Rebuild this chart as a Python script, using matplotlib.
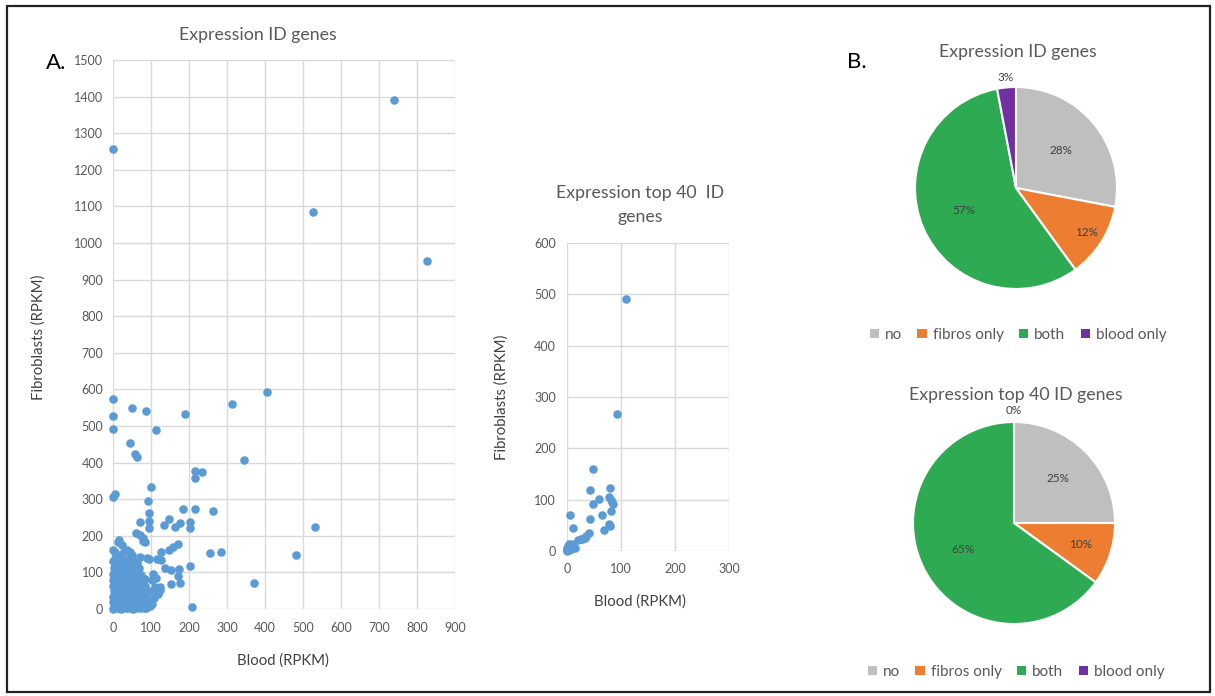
import math
import matplotlib
matplotlib.use("Agg")
import matplotlib.pyplot as plt
from matplotlib.patches import Patch, Rectangle

plt.rcParams['font.family'] = ['Lato', 'DejaVu Sans']

# ---------------- data ----------------
# Panel A, all ID genes: sparse points
blood_sparse = [0, 740, 527, 827, 406, 314, 0, 0, 0, 50, 86, 189, 112, 44, 58, 63, 344,
                217, 234, 217, 100, 6, 1, 91, 95, 95, 95, 71, 183, 217, 264, 147, 133,
                164, 177, 202, 202, 60, 71, 80, 84, 15, 1, 23, 36, 45, 172, 159, 148,
                126, 255, 283, 94, 115, 126, 137, 152, 174, 203, 170, 152, 177, 102,
                110, 119, 124, 96, 97, 371, 209, 481, 531, 14, 79, 6, 27, 49, 71, 89,
                97, 110, 124, 103, 108, 100, 105, 112]
fibro_sparse = [1257, 1390, 1084, 952, 593, 561, 573, 526, 491, 550, 541, 533, 489, 454,
                423, 414, 408, 377, 373, 359, 333, 315, 307, 296, 261, 241, 220, 238,
                272, 272, 267, 247, 229, 223, 236, 239, 220, 208, 202, 193, 184, 189,
                161, 175, 161, 157, 178, 170, 161, 157, 152, 157, 137, 137, 134, 111,
                107, 108, 117, 91, 67, 70, 79, 61, 40, 52, 25, 8, 70, 5, 148, 223, 184,
                186, 157, 153, 148, 143, 139, 20, 43, 61, 15, 30, 48, 95, 85]

# Panel A, all ID genes: dense cluster near the origin
blood_dense = [0, 2, 5, 8, 12, 15, 20, 24, 28, 33, 38, 42, 47, 52, 56, 61, 66, 71, 76, 82, 88, 93,
               1, 4, 9, 14, 18, 23, 27, 31, 36, 40, 45, 50, 54, 58, 63, 68, 73, 78, 84, 90,
               0, 3, 7, 11, 16, 21, 26, 30, 35, 39, 44, 48, 53, 57, 62, 67, 72, 77, 83, 88,
               2, 6, 10, 15, 19, 24, 29, 33, 37, 42, 46, 51, 55, 60, 65, 70, 75, 80, 86,
               0, 4, 9, 13, 17, 22, 27, 31, 36, 41, 45, 50, 54, 59, 64, 69, 74, 79, 85,
               1, 5, 9, 14, 19, 23, 28, 32, 37, 42, 47, 51, 56, 61, 66, 71, 77, 83,
               0, 4, 8, 13, 18, 23, 28, 33, 38, 43, 48, 53, 58, 63, 68, 74,
               2, 6, 11, 16, 21, 26, 31, 36, 41, 46, 52, 57, 62, 68,
               0, 5, 10, 17, 24, 30, 38, 45, 55, 64]
fibro_dense = [0, 5, 2, 8, 3, 10, 1, 6, 12, 2, 8, 4, 10, 1, 7, 3, 9, 2, 6, 4, 2, 9,
               18, 22, 15, 24, 17, 21, 16, 25, 19, 23, 15, 20, 24, 16, 22, 18, 25, 15, 21, 17,
               32, 37, 30, 40, 33, 38, 31, 36, 40, 30, 35, 39, 32, 37, 30, 34, 38, 31, 36, 33,
               48, 53, 45, 50, 55, 47, 52, 45, 54, 49, 45, 53, 48, 55, 46, 51, 45, 54, 49,
               62, 68, 60, 66, 70, 63, 68, 61, 66, 70, 62, 67, 60, 65, 70, 62, 66, 60, 64,
               78, 84, 76, 82, 88, 77, 83, 76, 86, 79, 84, 75, 80, 87, 78, 83, 76, 82,
               95, 100, 93, 104, 97, 92, 101, 95, 103, 96, 92, 100, 105, 94, 99, 92,
               112, 120, 115, 124, 110, 118, 113, 122, 116, 110, 121, 114, 119, 112,
               130, 138, 132, 141, 128, 135, 130, 138, 132, 128]

# Panel A, top 40 ID genes
blood_top40 = [5, 10.5, 49, 43, 48, 60, 43, 65, 80, 78, 81, 84, 86, 81, 77, 80, 69, 40, 36,
               28, 25, 12, 6, 3, 0, 0, 9, 109, 93, 1, 2, 4, 0, 7, 1, 3, 14, 33, 20, 0]
fibro_top40 = [70, 44, 159, 119, 91, 102, 62, 70, 123, 105, 100, 95, 91, 77, 53, 49, 40, 36,
               30, 24, 23, 9, 11, 7, 0, 3, 13, 490, 266, 1, 5, 2, 6, 4, 10, 14, 6, 26, 22, 1]

# Panel B, pies
pie_labels = ['no', 'fibros only', 'both', 'blood only']
pie_all = [28, 12, 57, 3]
pie_top40 = [25, 10, 65, 0]

# ---------------- style ----------------
W, H = 1215, 696
BLUE = '#5B9BD5'
GRID = '#D9D9D9'
TICK = '#595959'
LAB = '#404040'
PIE_COLORS = ['#BFBFBF', '#ED7D31', '#2EAA52', '#7030A0']
TITLE_FS = 12.8
AXLAB_FS = 10.7
TICK_FS = 9


def fx(px):
    return px / W


def fy(py):
    return 1 - py / H


def box(l, t, r, b):
    return [fx(l), fy(b), (r - l) / W, (b - t) / H]


fig = plt.figure(figsize=(W / 100, H / 100), dpi=100)

# border around whole figure
fig.patches.append(Rectangle((fx(7), fy(692)), (1210 - 7) / W, (692 - 6) / H,
                             transform=fig.transFigure, fill=False,
                             edgecolor='#222222', linewidth=1.6))


def style_scatter(ax, xmax, xstep, ymax, ystep, xpad, ypad):
    ax.set_xlim(0, xmax)
    ax.set_ylim(0, ymax)
    ax.set_xticks(range(0, xmax + 1, xstep))
    ax.set_yticks(range(0, ymax + 1, ystep))
    ax.grid(True, color=GRID, linewidth=1.0)
    ax.set_axisbelow(True)
    for s in ax.spines.values():
        s.set_visible(False)
    ax.tick_params(axis='both', length=0, labelsize=TICK_FS, labelcolor=TICK)
    ax.tick_params(axis='x', pad=xpad)
    ax.tick_params(axis='y', pad=ypad)


# Big scatter
ax1 = fig.add_axes(box(113, 60, 455, 609))
ax1.scatter(blood_dense + blood_sparse, fibro_dense + fibro_sparse, s=38, color=BLUE,
            linewidths=0, clip_on=False, zorder=3)
style_scatter(ax1, 900, 100, 1500, 100, 9.5, 7)
fig.text(fx(258), fy(35), 'Expression ID genes', ha='center', va='center',
         fontsize=TITLE_FS, color=TICK)
fig.text(fx(283), fy(661), 'Blood (RPKM)', ha='center', va='center', fontsize=AXLAB_FS,
         color=LAB)
fig.text(fx(39), fy(337), 'Fibroblasts (RPKM)', ha='center', va='center', fontsize=AXLAB_FS,
         color=LAB, rotation=90)
fig.text(fx(56), fy(63), 'A.', ha='center', va='center', fontsize=16, color='black')

# Small scatter
ax2 = fig.add_axes(box(567, 243, 729, 551))
ax2.scatter(blood_top40, fibro_top40, s=38, color=BLUE, linewidths=0, clip_on=False, zorder=3)
style_scatter(ax2, 300, 100, 600, 100, 8.5, 8)
fig.text(fx(640), fy(193), 'Expression top 40  ID', ha='center', va='center',
         fontsize=TITLE_FS, color=TICK)
fig.text(fx(640), fy(217), 'genes', ha='center', va='center', fontsize=TITLE_FS, color=TICK)
fig.text(fx(640), fy(602), 'Blood (RPKM)', ha='center', va='center', fontsize=AXLAB_FS,
         color=LAB)
fig.text(fx(502), fy(397), 'Fibroblasts (RPKM)', ha='center', va='center', fontsize=AXLAB_FS,
         color=LAB, rotation=90)


# Pies
def draw_pie(cx, cy, r, values, label_r, title, title_y, legend_y, legend_x):
    ax = fig.add_axes(box(cx - r, cy - r, cx + r, cy + r))
    wedges, _ = ax.pie(values, colors=PIE_COLORS, startangle=90, counterclock=False,
                       wedgeprops=dict(edgecolor='white', linewidth=1.5))
    ax.set_xlim(-1, 1)
    ax.set_ylim(-1, 1)
    ax.set_aspect('equal')
    for w, v, lr in zip(wedges, values, label_r):
        ang = math.radians((w.theta1 + w.theta2) / 2)
        ax.text(lr * math.cos(ang), lr * math.sin(ang), f'{v}%', ha='center', va='center',
                fontsize=8.5, color=LAB)
    fig.text(fx(cx + 2), fy(title_y), title, ha='center', va='center', fontsize=TITLE_FS,
             color=TICK)
    handles = [Patch(facecolor=c, edgecolor='none') for c in PIE_COLORS]
    fig.legend(handles, pie_labels, loc='center', bbox_to_anchor=(fx(legend_x), fy(legend_y)),
               ncol=4, frameon=False, fontsize=11, labelcolor=TICK, handlelength=0.6,
               handleheight=0.6, handletextpad=0.4, columnspacing=1.0)


draw_pie(1016, 188, 101, pie_all, [0.58, 0.83, 0.56, 1.1], 'Expression ID genes', 52, 335, 1018)
draw_pie(1014, 523, 101, pie_top40, [0.62, 0.69, 0.57, 1.11], 'Expression top 40 ID genes', 395,
         672, 1016)
fig.text(fx(857), fy(62), 'B.', ha='center', va='center', fontsize=16, color='black')

fig.savefig('out.png', dpi=100)
